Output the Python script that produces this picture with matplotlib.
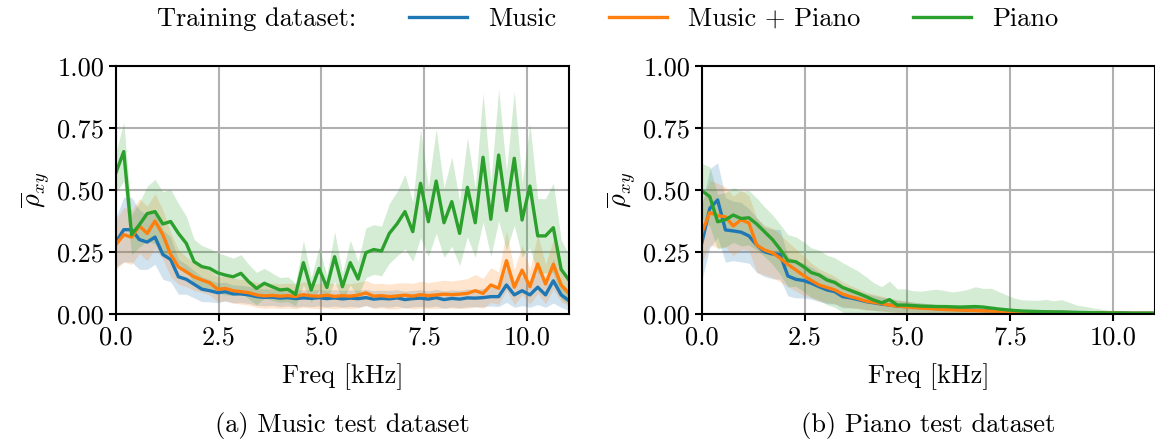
#!/usr/bin/env python

import numpy as np
import matplotlib
matplotlib.use('Agg')
import matplotlib.pyplot as plt
from matplotlib.lines import Line2D

###########################
## Frequency axis [kHz]
freq = np.linspace(0, 11.025, 59)

## (a) Music test dataset: mean correlation and spread per training set
music_mean_a = [0.29, 0.34, 0.34, 0.30, 0.29, 0.31, 0.24, 0.22, 0.15, 0.14,
                0.12, 0.10, 0.094, 0.086, 0.09, 0.081, 0.081, 0.077, 0.07, 0.067,
                0.068, 0.064, 0.066, 0.062, 0.065, 0.063, 0.066, 0.062, 0.065, 0.061,
                0.064, 0.062, 0.066, 0.060, 0.063, 0.061, 0.065, 0.058, 0.062, 0.064,
                0.060, 0.066, 0.058, 0.063, 0.060, 0.065, 0.064, 0.066, 0.070, 0.070,
                0.117, 0.077, 0.094, 0.077, 0.108, 0.077, 0.134, 0.077, 0.054]
music_std_a = [0.10, 0.13, 0.13, 0.12, 0.11, 0.11, 0.10, 0.09, 0.07, 0.06,
               0.055, 0.05, 0.045, 0.04, 0.038, 0.036, 0.035, 0.034, 0.035, 0.034,
               0.033, 0.034, 0.033, 0.034, 0.033, 0.034, 0.033, 0.034, 0.033, 0.034,
               0.033, 0.034, 0.033, 0.034, 0.033, 0.034, 0.033, 0.034, 0.033, 0.034,
               0.033, 0.034, 0.035, 0.034, 0.035, 0.036, 0.035, 0.037, 0.038, 0.04,
               0.07, 0.05, 0.06, 0.05, 0.07, 0.05, 0.09, 0.05, 0.04]

mp_mean_a = [0.28, 0.32, 0.31, 0.355, 0.325, 0.375, 0.32, 0.24, 0.19, 0.17,
             0.15, 0.137, 0.126, 0.10, 0.103, 0.094, 0.09, 0.086, 0.077, 0.073,
             0.075, 0.072, 0.074, 0.071, 0.078, 0.073, 0.072, 0.076, 0.071, 0.074,
             0.072, 0.076, 0.085, 0.072, 0.074, 0.070, 0.073, 0.076, 0.072, 0.078,
             0.074, 0.077, 0.080, 0.078, 0.080, 0.083, 0.094, 0.083, 0.117, 0.104,
             0.215, 0.108, 0.177, 0.110, 0.202, 0.121, 0.200, 0.117, 0.083]
mp_std_a = [0.10, 0.11, 0.11, 0.11, 0.11, 0.11, 0.10, 0.09, 0.07, 0.06,
            0.055, 0.05, 0.05, 0.05, 0.05, 0.05, 0.05, 0.05, 0.05, 0.05,
            0.05, 0.05, 0.05, 0.05, 0.052, 0.05, 0.05, 0.052, 0.05, 0.05,
            0.05, 0.052, 0.05, 0.05, 0.05, 0.05, 0.052, 0.05, 0.052, 0.054,
            0.052, 0.055, 0.056, 0.055, 0.058, 0.06, 0.065, 0.06, 0.07, 0.065,
            0.12, 0.07, 0.10, 0.07, 0.12, 0.08, 0.10, 0.07, 0.05]

piano_mean_a = [0.57, 0.655, 0.32, 0.36, 0.405, 0.413, 0.363, 0.373, 0.325, 0.285,
                0.211, 0.191, 0.184, 0.166, 0.157, 0.150, 0.164, 0.130, 0.103, 0.124,
                0.110, 0.097, 0.100, 0.079, 0.207, 0.097, 0.184, 0.107, 0.231, 0.110,
                0.207, 0.141, 0.247, 0.260, 0.254, 0.325, 0.364, 0.413, 0.332, 0.527,
                0.372, 0.536, 0.368, 0.453, 0.325, 0.511, 0.368, 0.632, 0.382, 0.641,
                0.417, 0.628, 0.379, 0.516, 0.315, 0.315, 0.348, 0.180, 0.137]
piano_std_a = [0.08, 0.12, 0.08, 0.09, 0.11, 0.13, 0.13, 0.13, 0.12, 0.11,
               0.09, 0.085, 0.08, 0.08, 0.08, 0.075, 0.075, 0.07, 0.065, 0.06,
               0.055, 0.05, 0.05, 0.045, 0.09, 0.05, 0.085, 0.05, 0.10, 0.055,
               0.09, 0.07, 0.10, 0.10, 0.10, 0.12, 0.13, 0.15, 0.12, 0.22,
               0.14, 0.21, 0.14, 0.18, 0.13, 0.20, 0.14, 0.26, 0.15, 0.265,
               0.16, 0.27, 0.15, 0.25, 0.15, 0.15, 0.18, 0.12, 0.10]

## (b) Piano test dataset
music_mean_b = [0.29, 0.426, 0.46, 0.339, 0.335, 0.33, 0.315, 0.278, 0.251, 0.242,
                0.24, 0.153, 0.14, 0.135, 0.124, 0.11, 0.097, 0.09, 0.07, 0.065,
                0.058, 0.05, 0.045, 0.04, 0.036, 0.032, 0.03, 0.028, 0.026, 0.024,
                0.022, 0.02, 0.019, 0.018, 0.016, 0.015, 0.014, 0.013, 0.012, 0.011,
                0.010, 0.009, 0.009, 0.008, 0.008, 0.007, 0.007, 0.006, 0.006, 0.005,
                0.005, 0.005, 0.004, 0.004, 0.004, 0.003, 0.003, 0.003, 0.003]
music_std_b = [0.15, 0.16, 0.15, 0.13, 0.12, 0.12, 0.11, 0.11, 0.10, 0.10,
               0.10, 0.08, 0.075, 0.07, 0.065, 0.06, 0.055, 0.05, 0.045, 0.04,
               0.035, 0.032, 0.03, 0.028, 0.026, 0.024, 0.022, 0.02, 0.019, 0.018,
               0.017, 0.016, 0.015, 0.014, 0.013, 0.012, 0.011, 0.010, 0.010, 0.009,
               0.008, 0.008, 0.007, 0.007, 0.006, 0.006, 0.005, 0.005, 0.005, 0.004,
               0.004, 0.004, 0.003, 0.003, 0.003, 0.003, 0.002, 0.002, 0.002]

mp_mean_b = [0.33, 0.409, 0.397, 0.392, 0.355, 0.38, 0.367, 0.278, 0.258, 0.247,
             0.225, 0.20, 0.178, 0.155, 0.135, 0.117, 0.107, 0.097, 0.08, 0.07,
             0.062, 0.052, 0.047, 0.042, 0.036, 0.032, 0.029, 0.026, 0.024, 0.022,
             0.02, 0.018, 0.017, 0.016, 0.015, 0.014, 0.013, 0.012, 0.011, 0.010,
             0.009, 0.009, 0.008, 0.008, 0.007, 0.007, 0.006, 0.006, 0.005, 0.005,
             0.005, 0.004, 0.004, 0.004, 0.003, 0.003, 0.003, 0.003, 0.002]
mp_std_b = [0.12, 0.13, 0.13, 0.12, 0.12, 0.12, 0.11, 0.11, 0.10, 0.10,
            0.095, 0.09, 0.085, 0.08, 0.07, 0.065, 0.06, 0.055, 0.05, 0.045,
            0.04, 0.036, 0.033, 0.03, 0.028, 0.026, 0.024, 0.022, 0.02, 0.019,
            0.018, 0.017, 0.016, 0.015, 0.014, 0.013, 0.012, 0.011, 0.010, 0.009,
            0.008, 0.008, 0.007, 0.007, 0.006, 0.006, 0.005, 0.005, 0.005, 0.004,
            0.004, 0.004, 0.003, 0.003, 0.003, 0.003, 0.002, 0.002, 0.002]

piano_mean_b = [0.497, 0.473, 0.372, 0.38, 0.399, 0.385, 0.388, 0.363, 0.332, 0.301,
                0.261, 0.215, 0.211, 0.191, 0.167, 0.157, 0.137, 0.127, 0.107, 0.095,
                0.083, 0.07, 0.056, 0.045, 0.058, 0.036, 0.036, 0.034, 0.032, 0.031,
                0.030, 0.030, 0.029, 0.028, 0.029, 0.030, 0.028, 0.024, 0.020, 0.017,
                0.014, 0.012, 0.011, 0.010, 0.009, 0.008, 0.008, 0.007, 0.006, 0.006,
                0.005, 0.005, 0.004, 0.004, 0.004, 0.003, 0.003, 0.003, 0.003]
piano_std_b = [0.11, 0.12, 0.11, 0.11, 0.11, 0.11, 0.11, 0.105, 0.10, 0.10,
               0.10, 0.105, 0.10, 0.10, 0.10, 0.10, 0.10, 0.10, 0.10, 0.095,
               0.09, 0.08, 0.07, 0.065, 0.075, 0.065, 0.065, 0.06, 0.06, 0.065,
               0.07, 0.065, 0.06, 0.065, 0.07, 0.08, 0.075, 0.08, 0.07, 0.06,
               0.05, 0.045, 0.045, 0.045, 0.05, 0.045, 0.05, 0.04, 0.03, 0.025,
               0.02, 0.015, 0.012, 0.01, 0.01, 0.01, 0.01, 0.01, 0.01]

labels = ['Music', 'Music + Piano', 'Piano']
colors = ['#1f77b4', '#ff7f0e', '#2ca02c']

###########################

plt.rcParams['font.family'] = 'serif'
plt.rcParams['font.serif'] = ['cmr10']
plt.rcParams['mathtext.fontset'] = 'cm'
plt.rcParams['axes.unicode_minus'] = False
plt.rcParams['axes.formatter.use_mathtext'] = True
plt.rcParams['font.size'] = 19


def panel(ax, means, stds):
    """Mean correlation per frequency bin with +/- std band"""

    for m, s, c in zip(means, stds, colors):
        m = np.array(m)
        s = np.array(s)
        ax.fill_between(freq, m - s, m + s, color=c, alpha=0.2, lw=0)
        ax.plot(freq, m, '-', color=c, lw=2.4)

    ax.set_xlim(0, 11.025)
    ax.set_ylim(0, 1)
    ax.set_xticks([0, 2.5, 5, 7.5, 10])
    ax.set_yticks([0, 0.25, 0.5, 0.75, 1.0])
    ax.set_xticklabels(['0.0', '2.5', '5.0', '7.5', '10.0'])
    ax.set_yticklabels(['0.00', '0.25', '0.50', '0.75', '1.00'])
    ax.grid(True, color='#b0b0b0', lw=1.5)
    ax.set_axisbelow(True)
    for sp in ax.spines.values():
        sp.set_linewidth(1.5)
    ax.tick_params(width=1.5, length=5)

    ax.set_xlabel('Freq [kHz]', labelpad=10)
    ax.set_ylabel(r'$\overline{\rho}_{xy}$')


fig = plt.figure(figsize=(11.55, 4.43), dpi=100)

ax1 = fig.add_axes([0.1004, 0.2912, 0.3922, 0.5598])
ax2 = fig.add_axes([0.6078, 0.2912, 0.3922, 0.5598])

panel(ax1, [music_mean_a, mp_mean_a, piano_mean_a],
      [music_std_a, mp_std_a, piano_std_a])
panel(ax2, [music_mean_b, mp_mean_b, piano_mean_b],
      [music_std_b, mp_std_b, piano_std_b])

fig.text(0.2965, 0.04, '(a) Music test dataset', ha='center', va='center')
fig.text(0.804, 0.04, '(b) Piano test dataset', ha='center', va='center')

## Legend in one row, with a text-only first entry
handles = [Line2D([], [], lw=0)]
handles += [Line2D([], [], color=c, lw=2.4) for c in colors]
fig.legend(handles, ['Training dataset:'] + labels, ncol=4, frameon=False,
           handlelength=2.2, columnspacing=2.0,
           loc='upper left', bbox_to_anchor=(0.058, 1.008), borderaxespad=0)

fig.savefig('out.png', dpi=100)
